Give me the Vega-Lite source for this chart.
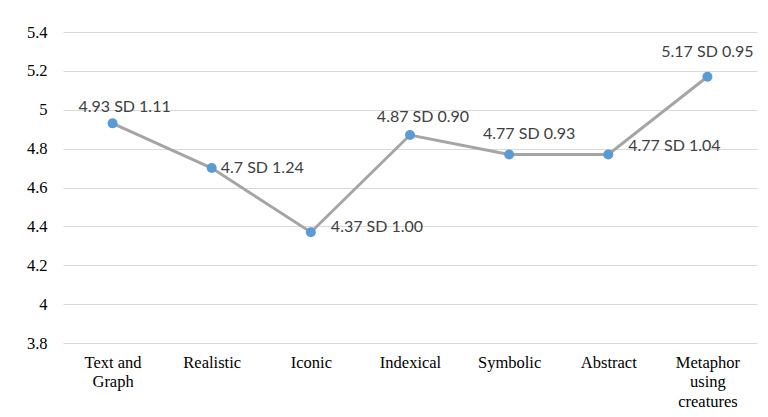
{
  "$schema": "https://vega.github.io/schema/vega-lite/v6.json",
  "width": 694,
  "height": 311,
  "autosize": {"type": "none"},
  "padding": {"left": 63, "top": 32, "right": 11, "bottom": 74},
  "background": "white",
  "config": {"view": {"stroke": null}},
  "data": {
    "values": [
      {"category": "Text and Graph", "mean": 4.93, "label": "4.93 SD 1.11"},
      {"category": "Realistic", "mean": 4.7, "label": "4.7 SD 1.24"},
      {"category": "Iconic", "mean": 4.37, "label": "4.37 SD 1.00"},
      {"category": "Indexical", "mean": 4.87, "label": "4.87 SD 0.90"},
      {"category": "Symbolic", "mean": 4.77, "label": "4.77 SD 0.93"},
      {"category": "Abstract", "mean": 4.77, "label": "4.77 SD 1.04"},
      {"category": "Metaphor using creatures", "mean": 5.17, "label": "5.17 SD 0.95"}
    ]
  },
  "encoding": {
    "x": {
      "field": "category", "type": "nominal", "sort": null,
      "scale": {"paddingInner": 0, "paddingOuter": 0},
      "axis": {
        "title": null, "domain": false, "ticks": false, "labelAngle": 0,
        "labelFont": "Liberation Serif", "labelFontSize": 16.5, "labelColor": "#000000",
        "labelPadding": 11, "labelLineHeight": 19.5, "labelBaseline": "top",
        "labelExpr": "datum.label == 'Text and Graph' ? ['Text and', 'Graph'] : datum.label == 'Metaphor using creatures' ? ['Metaphor', 'using', 'creatures'] : datum.label"
      }
    },
    "y": {
      "field": "mean", "type": "quantitative",
      "scale": {"domain": [3.8, 5.4], "nice": false, "zero": false},
      "axis": {
        "title": null, "domain": false, "ticks": false,
        "values": [3.8, 4, 4.2, 4.4, 4.6, 4.8, 5, 5.2, 5.4],
        "format": ".1~f",
        "labelFont": "Liberation Serif", "labelFontSize": 16.5, "labelColor": "#000000",
        "labelPadding": 16,
        "gridColor": "#d9d9d9", "gridWidth": 1
      }
    }
  },
  "layer": [
    {"mark": {"type": "line", "color": "#a5a5a5", "strokeWidth": 3}},
    {"mark": {"type": "point", "filled": true, "color": "#5b9bd5", "size": 100, "opacity": 1}},
    {
      "transform": [{"filter": "datum.category == 'Text and Graph'"}],
      "mark": {"type": "text", "font": "Lato", "fontSize": 16, "color": "#404040", "align": "center", "baseline": "alphabetic", "dx": 12, "dy": -11},
      "encoding": {"text": {"field": "label"}}
    },
    {
      "transform": [{"filter": "datum.category == 'Realistic'"}],
      "mark": {"type": "text", "font": "Lato", "fontSize": 16, "color": "#404040", "align": "left", "baseline": "middle", "dx": 9, "dy": 0},
      "encoding": {"text": {"field": "label"}}
    },
    {
      "transform": [{"filter": "datum.category == 'Iconic'"}],
      "mark": {"type": "text", "font": "Lato", "fontSize": 16, "color": "#404040", "align": "left", "baseline": "middle", "dx": 20, "dy": -5},
      "encoding": {"text": {"field": "label"}}
    },
    {
      "transform": [{"filter": "datum.category == 'Indexical'"}],
      "mark": {"type": "text", "font": "Lato", "fontSize": 16, "color": "#404040", "align": "center", "baseline": "alphabetic", "dx": 13, "dy": -13},
      "encoding": {"text": {"field": "label"}}
    },
    {
      "transform": [{"filter": "datum.category == 'Symbolic'"}],
      "mark": {"type": "text", "font": "Lato", "fontSize": 16, "color": "#404040", "align": "center", "baseline": "alphabetic", "dx": 20, "dy": -15},
      "encoding": {"text": {"field": "label"}}
    },
    {
      "transform": [{"filter": "datum.category == 'Abstract'"}],
      "mark": {"type": "text", "font": "Lato", "fontSize": 16, "color": "#404040", "align": "left", "baseline": "middle", "dx": 20, "dy": -8},
      "encoding": {"text": {"field": "label"}}
    },
    {
      "transform": [{"filter": "datum.category == 'Metaphor using creatures'"}],
      "mark": {"type": "text", "font": "Lato", "fontSize": 16, "color": "#404040", "align": "center", "baseline": "alphabetic", "dx": 0, "dy": -20},
      "encoding": {"text": {"field": "label"}}
    }
  ]
}
